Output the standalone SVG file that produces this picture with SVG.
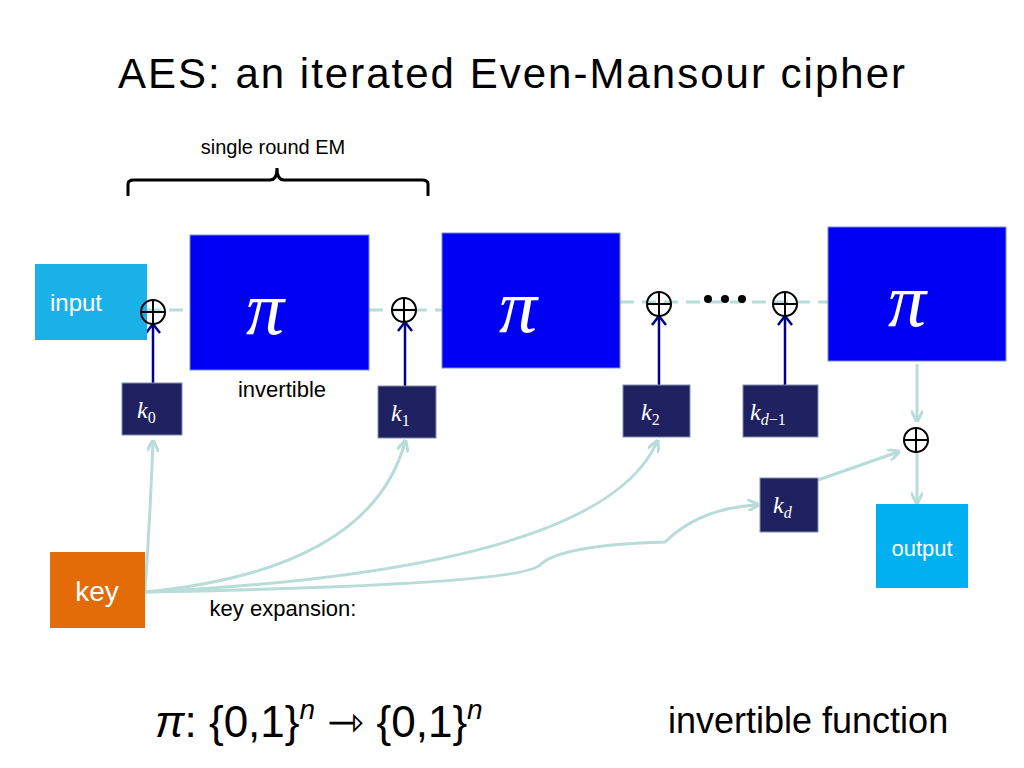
<svg xmlns="http://www.w3.org/2000/svg" width="1024" height="768" viewBox="0 0 1024 768">
<style>
text{font-family:"Liberation Sans",Arial,sans-serif}
.m{font-family:"Liberation Serif","Times New Roman",serif;font-style:italic;fill:#fff}
.pi{fill:#0000f5;stroke:#7a8ad0;stroke-width:1}
.k{fill:#1f2160;stroke:#8090b0;stroke-width:1}
.x{fill:none;stroke:#000;stroke-width:2}
.c{fill:none;stroke:#b8dcd8;stroke-width:3}
.d{fill:none;stroke:#000088;stroke-width:2.5}
</style>
<defs>
<marker id="a" viewBox="0 0 10 10" refX="8" refY="5" markerWidth="4" markerHeight="4" orient="auto"><path d="M0,0L10,5L0,10" fill="none" stroke="#b8dcd8" stroke-width="2.5"/></marker>
</defs>
<rect width="1024" height="768" fill="#fff"/>
<text x="118" y="88" font-size="42" textLength="787">AES:  an iterated Even-Mansour cipher</text>
<text x="273" y="154" font-size="20" text-anchor="middle">single round EM</text>
<path d="M128,196V184Q128,180 134,180H270Q277,180 277,168Q277,180 284,180H422Q428,180 428,184V196" fill="none" stroke="#000" stroke-width="3"/>
<g id="connectors">
<path class="c" stroke-dasharray="14,8" d="M147,310H190M369,310H442M620,302H828"/>
<path class="d" d="M153,383V325M405,386V323M659,385V317M785,385V317"/>
<path class="d" d="M146,333L153,324L160,333M398,331L405,322L412,331M652,325L659,316L666,325M778,325L785,316L792,325"/>
<path class="c" marker-end="url(#a)" d="M145,592Q150,520 153,442"/>
<path class="c" marker-end="url(#a)" d="M145,592Q370,570 405,442"/>
<path class="c" marker-end="url(#a)" d="M145,592Q600,570 657,442"/>
<path class="c" marker-end="url(#a)" d="M145,592Q520,585 540,565T665,542Q700,508 757,505"/>
<path class="c" marker-end="url(#a)" d="M818,480L898,452"/>
<path class="c" marker-end="url(#a)" d="M917,364V420"/>
<path class="c" marker-end="url(#a)" d="M917,452V502"/>
</g>
<g id="input"><rect x="35" y="264" width="112" height="76" fill="#1ab0e8"/><text x="76" y="311" font-size="24" fill="#fff" text-anchor="middle">input</text></g>
<g id="pi1"><rect class="pi" x="190" y="235" width="179" height="135"/><text class="m" x="265" y="334" font-size="76" text-anchor="middle">π</text></g>
<g id="pi2"><rect class="pi" x="442" y="233" width="178" height="135"/><text class="m" x="518" y="332" font-size="76" text-anchor="middle">π</text></g>
<g id="pi3"><rect class="pi" x="828" y="227" width="178" height="134"/><text class="m" x="907" y="326" font-size="76" text-anchor="middle">π</text></g>
<g id="xors">
<g class="x"><circle cx="153" cy="312" r="12"/><path d="M141,312H165M153,300V324"/></g>
<g class="x"><circle cx="404" cy="310" r="12"/><path d="M392,310H416M404,298V322"/></g>
<g class="x"><circle cx="659" cy="304" r="12"/><path d="M647,304H671M659,292V316"/></g>
<g class="x"><circle cx="785" cy="304" r="12"/><path d="M773,304H797M785,292V316"/></g>
<g class="x"><circle cx="916" cy="440" r="12"/><path d="M904,440H928M916,428V452"/></g>
</g>
<g id="dots"><circle cx="708" cy="299" r="4"/><circle cx="725" cy="299" r="4"/><circle cx="742" cy="299" r="4"/></g>
<g id="k0"><rect class="k" x="122" y="383" width="60" height="52"/><text class="m" x="137" y="418" font-size="24">k<tspan font-size="16" font-style="normal" dy="5">0</tspan></text></g>
<g id="k1"><rect class="k" x="378" y="386" width="58" height="52"/><text class="m" x="391" y="421" font-size="24">k<tspan font-size="16" font-style="normal" dy="5">1</tspan></text></g>
<g id="k2"><rect class="k" x="623" y="385" width="67" height="52"/><text class="m" x="641" y="420" font-size="24">k<tspan font-size="16" font-style="normal" dy="5">2</tspan></text></g>
<g id="kd1"><rect class="k" x="743" y="385" width="75" height="52"/><text class="m" x="750" y="420" font-size="24">k<tspan font-size="16" dy="5">d</tspan><tspan font-size="16" font-style="normal">−1</tspan></text></g>
<g id="kd"><rect class="k" x="760" y="478" width="58" height="54"/><text class="m" x="773" y="513" font-size="24">k<tspan font-size="16" dy="5">d</tspan></text></g>
<g id="key"><rect x="50" y="552" width="95" height="76" fill="#e36c09"/><text x="97" y="601" font-size="28" fill="#fff" text-anchor="middle">key</text></g>
<g id="output"><rect x="876" y="504" width="92" height="84" fill="#00b0f0"/><text x="922" y="556" font-size="22" fill="#fff" text-anchor="middle">output</text></g>
<text x="282" y="397" font-size="22" text-anchor="middle">invertible</text>
<text x="283" y="616" font-size="22" text-anchor="middle">key expansion:</text>
<text x="155" y="737" font-size="44" font-family="Liberation Serif,serif"><tspan font-style="italic">π</tspan>: {0,1}<tspan font-style="italic" font-size="28" dy="-18">n</tspan><tspan dy="18">  ⇾  {0,1}</tspan><tspan font-style="italic" font-size="28" dy="-18">n</tspan></text>
<text x="668" y="733" font-size="36">invertible function</text>
</svg>
